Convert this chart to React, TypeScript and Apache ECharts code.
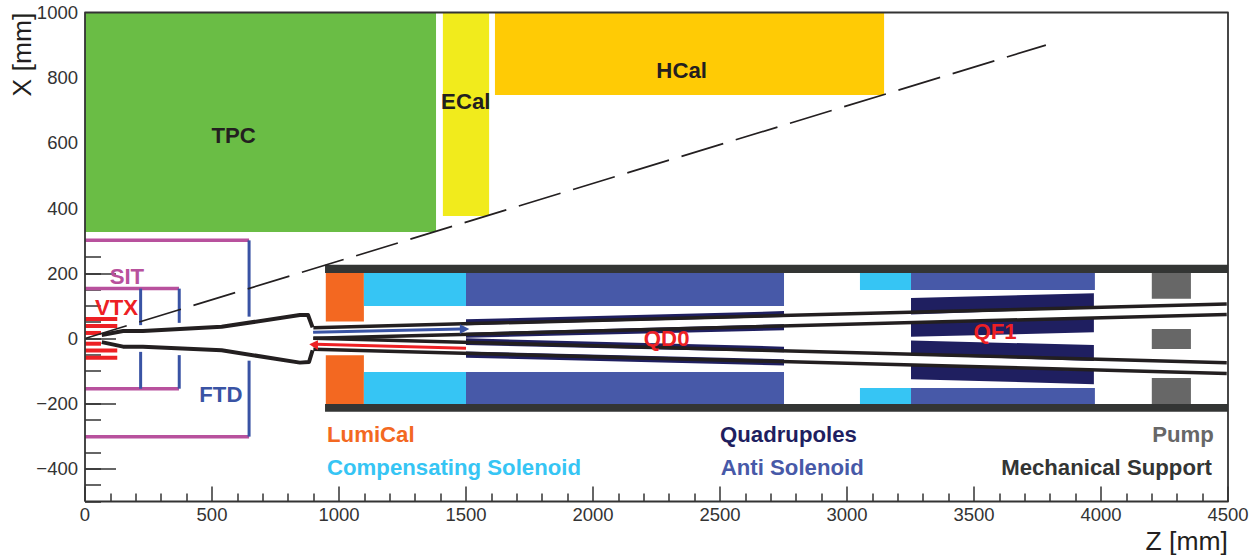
import React, { useEffect, useRef } from "react";
import * as echarts from "echarts";

// All coordinates are millimetres: [zMin, zMax, xMin, xMax]
const tpcRects = [[0, 1382, 327, 1000]];
const ecalRects = [[1409, 1591, 376, 1000]];
const hcalRects = [[1614, 3146, 747, 1000]];
const lumiCalRects = [[948, 1098, 52, 201], [948, 1098, -201, -51]];
const compensatingRects = [
  [1098, 1500, 100, 201], [1098, 1500, -201, -103],
  [3051, 3252, 149, 201], [3051, 3252, -201, -152],
];
const antiSolenoidRects = [
  [1500, 2752, 100, 201], [1500, 2752, -201, -103],
  [3252, 3976, 149, 201], [3252, 3976, -201, -152],
];
const supportRects = [[945, 4500, 201, 226], [945, 4500, -225, -201]];
const pumpRects = [[4200, 4354, 122, 201], [4200, 4354, -32, 29], [4200, 4354, -201, -121]];

const quadrupolePolygons = [
  [[1500, 59], [2752, 84], [2752, 66], [1500, 41]],
  [[1500, 18], [2752, 44], [2752, 25], [1500, 2]],
  [[1500, 0.6], [2752, -25], [2752, -42], [1500, -20]],
  [[1500, -40], [2752, -64], [2752, -83], [1500, -59]],
  [[3252, 124], [3972, 139], [3972, 93], [3252, 74]],
  [[3252, 47], [3972, 64], [3972, 19], [3252, 5]],
  [[3252, -6], [3972, -20], [3972, -69], [3252, -51]],
  [[3252, -81], [3972, -100], [3972, -140], [3252, -125]],
];

const sitLines = [
  [[0, 301], [646, 301]],
  [[0, -301], [646, -301]],
  [[0, 153], [370, 153]],
  [[0, -154], [370, -154]],
];
const ftdLines = [
  [[646, 301], [646, 67]],
  [[646, -68], [646, -301]],
  [[219, 153], [219, 41]],
  [[219, -41], [219, -154]],
  [[371, 153], [371, 48]],
  [[371, -51], [371, -154]],
];
const vtxLines = [
  [[0, 60], [127, 60]],
  [[0, 38], [127, 38]],
  [[0, 17], [63, 17]],
  [[0, -16], [63, -16]],
  [[0, -37], [127, -37]],
  [[0, -59], [127, -59]],
];
const pipeLines = [
  [[66, 11], [150, 23], [228, 23], [538, 36], [846, 72], [878, 72], [896, 34]],
  [[66, -11], [150, -25], [228, -25], [538, -36], [846, -74], [882, -72], [896, -36]],
];
const beamLines = [
  [[899, 33], [4495, 106]],
  [[899, 0.6], [4495, 74]],
  [[899, 0.6], [4495, -74.2]],
  [[899, -33], [4495, -107]],
];
const acceptanceLine = [[0, 0], [3783, 900]];
const frameLine = [[0, -500], [0, 1000], [4500, 1000], [4500, -500], [0, -500]];

const blueArrowShaft = [[898, 19], [1480, 29]];
const blueArrowHead = [[[1476, 44], [1513, 29], [1476, 14]]];
const redArrowShaft = [[1500, -30], [910, -18]];
const redArrowHead = [[[917, -5], [883, -18], [917, -35]]];

const labels: [string, number, number, string, string][] = [
  ["TPC", 585, 623, "#231F20", "center"],
  ["ECal", 1499, 727, "#231F20", "center"],
  ["HCal", 2349, 822, "#231F20", "center"],
  ["SIT", 165, 189, "#B8519D", "center"],
  ["VTX", 124, 96, "#ED2024", "center"],
  ["FTD", 535, -173, "#3953A4", "center"],
  ["QD0", 2290, 0, "#ED2024", "center"],
  ["QF1", 3583, 23, "#ED2024", "center"],
  ["LumiCal", 953, -296, "#F36821", "left"],
  ["Compensating Solenoid", 953, -397, "#36C5F4", "left"],
  ["Quadrupoles", 2500, -296, "#1F1F60", "left"],
  ["Anti Solenoid", 2503, -397, "#4759A8", "left"],
  ["Pump", 4444, -296, "#676767", "right"],
  ["Mechanical Support", 4437, -397, "#333534", "right"],
];

const yMajorTicks = [-400, -200, 0, 200, 400, 600, 800, 1000];
const zTickStep = 500;
const yMinorStep = 50;

function rectSeries(name: string, data: number[][], color: string, z = 2) {
  return {
    type: "custom", name, z, silent: true, clip: false,
    data,
    encode: { x: [0, 1], y: [2, 3] },
    renderItem: (_p: any, api: any) => {
      const a = api.coord([api.value(0), api.value(3)]);
      const b = api.coord([api.value(1), api.value(2)]);
      return {
        type: "rect",
        shape: { x: a[0], y: a[1], width: b[0] - a[0], height: b[1] - a[1] },
        style: { fill: color },
      };
    },
  };
}

function polySeries(name: string, polys: number[][][], color: string, z: number) {
  return {
    type: "custom", name, z, silent: true, clip: false,
    data: polys.map((p) => p[0]),
    renderItem: (p: any, api: any) => ({
      type: "polygon",
      shape: { points: polys[p.dataIndex].map((c) => api.coord(c)) },
      style: { fill: color },
    }),
  };
}

function lineSeries(name: string, data: number[][], color: string, width: number, z: number, extra: any = {}) {
  return {
    type: "line", name, z, data, silent: true, clip: false,
    showSymbol: false, symbol: "none",
    lineStyle: { color, width, join: "round", cap: "butt", ...extra },
  };
}

function linesSeries(name: string, lines: number[][][], color: string, width: number, z: number) {
  return lines.map((l, i) => lineSeries(`${name} ${i + 1}`, l, color, width, z));
}

export default function App() {
  const ref = useRef<HTMLDivElement>(null);
  useEffect(() => {
    const chart = echarts.init(ref.current!, null, { renderer: "svg" });
    const axisColor = "#333333";
    chart.setOption({
      animation: false,
      backgroundColor: "#fff",
      textStyle: { fontFamily: "Liberation Sans" },
      grid: { left: 85, right: 31, top: 12.5, bottom: 55.5, containLabel: false, outerBoundsMode: "none" },
      graphic: [
        {
          type: "text", x: 22, y: 54.5, rotation: Math.PI / 2,
          style: {
            text: "X [mm]", font: "26.5px 'Liberation Sans'", fill: "#231F20",
            textAlign: "center", verticalAlign: "middle",
          },
        },
      ],
      xAxis: {
        type: "value", min: 0, max: 4500, interval: zTickStep,
        name: "Z [mm]", nameLocation: "end", nameGap: 0,
        nameTextStyle: { fontSize: 26.5, color: "#231F20", align: "right", verticalAlign: "top", padding: [26, 0, 0, 0], fontFamily: "Liberation Sans" },
        axisLine: { show: false, onZero: false },
        axisTick: { show: true, inside: true, length: 15, lineStyle: { color: axisColor, width: 1.5 } },
        minorTick: { show: true, splitNumber: 5, length: 8, lineStyle: { color: axisColor, width: 1.5 } },
        splitLine: { show: false }, minorSplitLine: { show: false },
        axisLabel: {
          fontSize: 18.5, color: axisColor, margin: 3, fontFamily: "Liberation Sans", hideOverlap: false, showMinLabel: true, showMaxLabel: true,
          formatter: (v: number) => String(v),
        },
      },
      yAxis: [
        {
          type: "value", min: -500, max: 1000,
          axisLine: { show: false, onZero: false },
          axisTick: { show: true, inside: true, length: 31, customValues: yMajorTicks, lineStyle: { color: axisColor, width: 1.5 } },
          splitLine: { show: false },
          axisLabel: {
            fontSize: 18.5, color: axisColor, margin: 7, fontFamily: "Liberation Sans",
            customValues: yMajorTicks, padding: [3, 0, 0, 0],
            formatter: (v: number) => String(v).replace("-", "\u2212"),
          },
        },
        {
          type: "value", min: -500, max: 1000, interval: yMinorStep, position: "left",
          axisLine: { show: false, onZero: false },
          axisTick: { show: true, inside: true, length: 16, lineStyle: { color: axisColor, width: 1.5 } },
          axisLabel: { show: false }, splitLine: { show: false },
        },
      ],
      series: [
        rectSeries("TPC", tpcRects, "#6ABD45"),
        rectSeries("ECal", ecalRects, "#F1EB1C"),
        rectSeries("HCal", hcalRects, "#FFCB05"),
        rectSeries("LumiCal", lumiCalRects, "#F36821"),
        rectSeries("Compensating Solenoid", compensatingRects, "#36C5F4"),
        rectSeries("Anti Solenoid", antiSolenoidRects, "#4759A8"),
        rectSeries("Pump", pumpRects, "#676767"),
        rectSeries("Mechanical Support", supportRects, "#333534", 3),
        polySeries("Quadrupoles", quadrupolePolygons, "#1F1F60", 3),
        ...linesSeries("SIT", sitLines, "#B8519D", 3.5, 4),
        ...linesSeries("FTD", ftdLines, "#3953A4", 3, 4),
        ...linesSeries("VTX", vtxLines, "#ED2024", 4, 4),
        lineSeries("Acceptance", acceptanceLine, "#231F20", 1.7, 5, { type: [43.6, 13.1] }),
        ...linesSeries("Beam pipe", pipeLines, "#231F20", 4, 6),
        ...linesSeries("Beam", beamLines, "#231F20", 3.5, 6),
        lineSeries("Blue arrow", blueArrowShaft, "#3953A4", 3, 7),
        polySeries("Blue arrow head", blueArrowHead, "#3953A4", 7),
        lineSeries("Red arrow", redArrowShaft, "#ED2024", 3, 7),
        polySeries("Red arrow head", redArrowHead, "#ED2024", 7),
        lineSeries("Frame", frameLine, "#333333", 1.8, 8),
        {
          type: "custom", name: "Labels", z: 10, silent: true, clip: false,
          data: labels.map((l) => [l[1], l[2]]),
          renderItem: (p: any, api: any) => {
            const l = labels[p.dataIndex];
            const c = api.coord([l[1], l[2]]);
            return {
              type: "text",
              style: {
                text: l[0], x: c[0], y: c[1], fill: l[3],
                font: "bold 22.2px 'Liberation Sans'",
                textAlign: l[4], verticalAlign: "middle",
              },
            };
          },
        },
      ],
    });
    return () => chart.dispose();
  }, []);
  return <div ref={ref} style={{ position: "absolute", left: 0, top: 0, width: 1259, height: 557 }} />;
}
